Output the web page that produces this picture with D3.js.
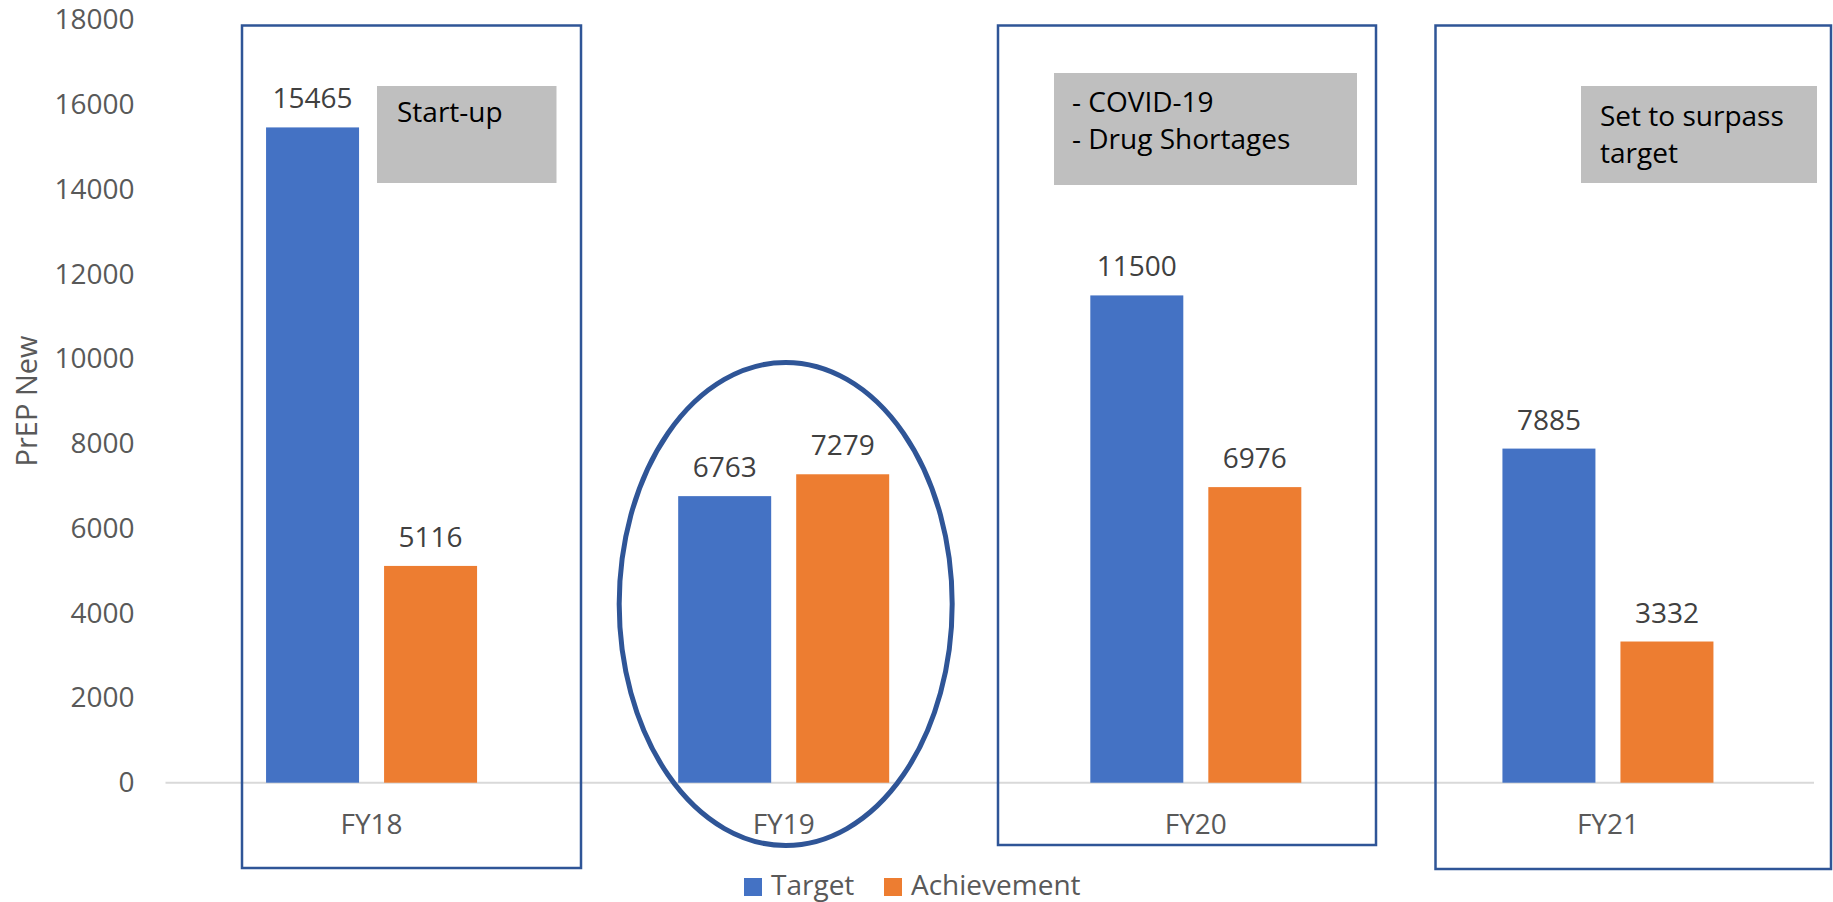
<!DOCTYPE html>
<html>
<head>
<meta charset="utf-8">
<script src="https://cdn.jsdelivr.net/npm/d3@7"></script>
<style>
  html, body { margin: 0; padding: 0; background: #fff; }
  svg { display: block; font-family: "Open Sans", "Noto Sans", sans-serif; }
</style>
</head>
<body>
<svg id="chart" width="1833" height="902"></svg>
<script>
// ---- data ----
const categories = ["FY18", "FY19", "FY20", "FY21"];
const seriesNames = ["Target", "Achievement"];
const targetValues = [15465, 6763, 11500, 7885];
const achievementValues = [5116, 7279, 6976, 3332];
const yTicks = [0, 2000, 4000, 6000, 8000, 10000, 12000, 14000, 16000, 18000];
const yTitle = "PrEP New";
const notes = [
  { cat: "FY18", lines: ["Start-up"] },
  { cat: "FY20", lines: ["- COVID-19", "- Drug Shortages"] },
  { cat: "FY21", lines: ["Set to surpass", "target"] }
];

// ---- layout / style ----
const W = 1833, H = 902;
const colors = { Target: "#4472C4", Achievement: "#ED7D31" };
const frameColor = "#2F5597";
const svg = d3.select("#chart");

const x = d3.scaleBand().domain(categories).range([165.5, 1814])
  .paddingInner(0.488).paddingOuter(0.244);
const xs = d3.scaleBand().domain(seriesNames).range([0, x.bandwidth()])
  .paddingInner(0.212);
const y = d3.scaleLinear().domain([0, 18000]).range([782.7, 20]);

const rows = categories.map((c, i) => ({
  cat: c,
  vals: [
    { s: "Target", v: targetValues[i] },
    { s: "Achievement", v: achievementValues[i] }
  ]
}));

// baseline
svg.append("line")
  .attr("x1", 165.5).attr("x2", 1814)
  .attr("y1", y(0)).attr("y2", y(0))
  .attr("stroke", "#d9d9d9").attr("stroke-width", 2);

// y axis (labels only)
const yAxis = d3.axisLeft(y).tickValues(yTicks).tickSize(0).tickPadding(0)
  .tickFormat(d3.format("d"));
const gy = svg.append("g").attr("transform", "translate(134.5,0)").call(yAxis);
gy.select(".domain").remove();
gy.selectAll("text")
  .attr("font-family", "Open Sans")
  .attr("font-size", 28)
  .attr("fill", "#595959");

// y title
svg.append("text")
  .attr("transform", `translate(37,401) rotate(-90)`)
  .attr("text-anchor", "middle")
  .attr("font-size", 29)
  .attr("fill", "#595959")
  .text(yTitle);

// bars
const g = svg.selectAll("g.cat").data(rows).join("g")
  .attr("class", "cat")
  .attr("transform", d => `translate(${x(d.cat)},0)`);

g.selectAll("rect").data(d => d.vals).join("rect")
  .attr("x", d => xs(d.s))
  .attr("width", xs.bandwidth())
  .attr("y", d => y(d.v))
  .attr("height", d => y(0) - y(d.v))
  .attr("fill", d => colors[d.s]);

g.selectAll("text.val").data(d => d.vals).join("text")
  .attr("class", "val")
  .attr("x", d => xs(d.s) + xs.bandwidth() / 2)
  .attr("y", d => y(d.v) - 19)
  .attr("text-anchor", "middle")
  .attr("font-size", 28)
  .attr("fill", "#404040")
  .text(d => d.v);

// category labels
const xAxis = d3.axisBottom(x).tickSize(0).tickPadding(0);
const gx = svg.append("g").attr("transform", `translate(0,${y(0)})`).call(xAxis);
gx.select(".domain").remove();
gx.selectAll("text")
  .attr("font-family", "Open Sans")
  .attr("font-size", 28)
  .attr("fill", "#595959")
  .attr("dy", null)
  .attr("y", 51);

// frames around categories
const frames = [
  { x0: 242, x1: 581, y0: 25.5, y1: 868 },
  { x0: 998, x1: 1376, y0: 25.5, y1: 845 },
  { x0: 1435.5, x1: 1831, y0: 25.5, y1: 869 }
];
svg.selectAll("rect.frame").data(frames).join("rect")
  .attr("class", "frame")
  .attr("x", d => d.x0).attr("y", d => d.y0)
  .attr("width", d => d.x1 - d.x0).attr("height", d => d.y1 - d.y0)
  .attr("fill", "none").attr("stroke", frameColor).attr("stroke-width", 2.5);

// ellipse around FY19
svg.append("ellipse")
  .attr("cx", x("FY19") + x.bandwidth() / 2 + 2)
  .attr("cy", 604).attr("rx", 166.5).attr("ry", 241.5)
  .attr("fill", "none").attr("stroke", frameColor).attr("stroke-width", 5);

// note boxes
const noteBoxes = {
  FY18: { x0: 377, x1: 556.5, y0: 86, y1: 183, tx: 397, ty: 122, lh: 37 },
  FY20: { x0: 1054, x1: 1357, y0: 73, y1: 185, tx: 1072, ty: 112, lh: 37 },
  FY21: { x0: 1581, x1: 1817, y0: 86, y1: 183, tx: 1600, ty: 126, lh: 37 }
};
notes.forEach(n => {
  const b = noteBoxes[n.cat];
  svg.append("rect")
    .attr("x", b.x0).attr("y", b.y0)
    .attr("width", b.x1 - b.x0).attr("height", b.y1 - b.y0)
    .attr("fill", "#BFBFBF");
  const t = svg.append("text")
    .attr("font-size", 28).attr("fill", "#000");
  n.lines.forEach((l, i) => {
    t.append("tspan").attr("x", b.tx).attr("y", b.ty + i * b.lh).text(l);
  });
});

// legend
const legendPos = [{ s: "Target", x: 744 }, { s: "Achievement", x: 884 }];
const lg = svg.selectAll("g.leg").data(legendPos).join("g")
  .attr("class", "leg")
  .attr("transform", d => `translate(${d.x},878)`);
lg.append("rect").attr("width", 18).attr("height", 18)
  .attr("fill", d => colors[d.s]);
lg.append("text").attr("x", 27).attr("y", 17)
  .attr("font-size", 28).attr("fill", "#595959")
  .text(d => d.s);
</script>
</body>
</html>
